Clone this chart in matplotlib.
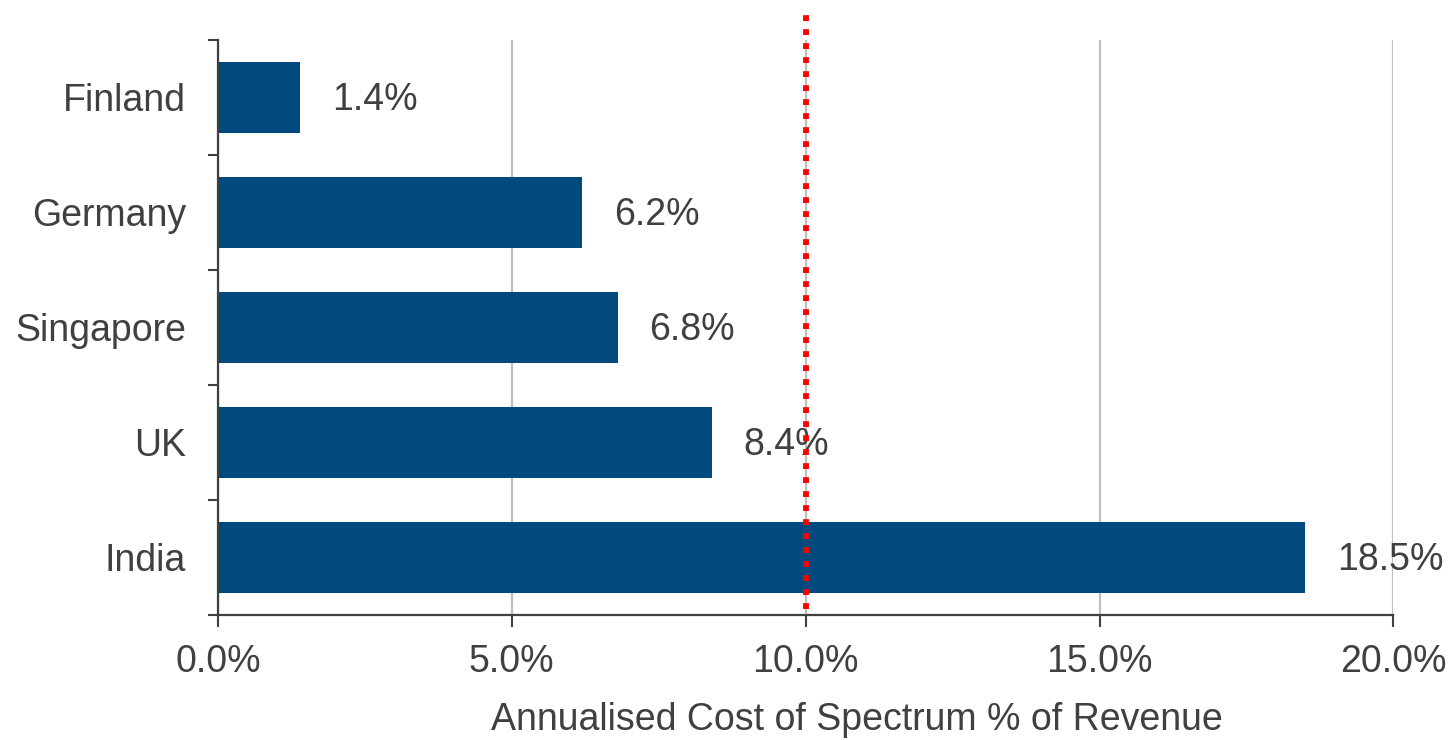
import numpy as np
import matplotlib.pyplot as plt
from matplotlib.ticker import FixedLocator, PercentFormatter

countries = ["Finland", "Germany", "Singapore", "UK", "India"]
cost_pct = [1.4, 6.2, 6.8, 8.4, 18.5]
xticks = [0, 5, 10, 15, 20]
threshold = 10.0

plt.rcParams["font.family"] = ["Liberation Sans", "DejaVu Sans"]
TXT = "#404040"
BAR = "#02497E"
FS = 27

fig = plt.figure(figsize=(14.53, 7.40), dpi=100)
ax = fig.add_axes([0.150, 0.169, 0.809, 0.777])

y = np.arange(len(countries))
ax.barh(y, cost_pct, height=0.62, color=BAR, zorder=2)
for yi, v in zip(y, cost_pct):
    ax.annotate(f"{v:.1f}%", (v, yi), xytext=(23, -2), textcoords="offset points",
                va="center", ha="left", fontsize=FS, color=TXT, zorder=3)

ax.set_ylim(len(countries) - 0.5, -0.5)
ax.set_xlim(0, 20)

# category boundaries as major ticks, labels on minor ticks
ax.yaxis.set_major_locator(FixedLocator(np.arange(-0.5, len(countries), 1.0)))
ax.yaxis.set_major_formatter(plt.NullFormatter())
ax.yaxis.set_minor_locator(FixedLocator(y))
ax.set_yticklabels(countries, minor=True)
ax.tick_params(axis="y", which="major", length=7.2, width=1.5, color=TXT)
ax.tick_params(axis="y", which="minor", length=0, pad=23, labelsize=FS, labelcolor=TXT)

ax.set_xticks(xticks)
ax.xaxis.set_major_formatter(PercentFormatter(decimals=1))
ax.tick_params(axis="x", length=8.6, width=1.5, color=TXT, pad=12,
               labelsize=FS, labelcolor=TXT)

ax.grid(axis="x", color="#BFBFBF", linewidth=1.6, zorder=0)
ax.set_axisbelow(True)
for s in ["top", "right"]:
    ax.spines[s].set_visible(False)
for s in ["left", "bottom"]:
    ax.spines[s].set_color(TXT)
    ax.spines[s].set_linewidth(1.6)

ax.axvline(threshold, ymin=0.01, ymax=1.055, color="#FF0000", linewidth=4.2,
           linestyle=(0, (1, 1.4)), dash_capstyle="butt", clip_on=False, zorder=4)

fig.text(857 / 1453, 1 - 720 / 740, "Annualised Cost of Spectrum % of Revenue",
         ha="center", va="center", fontsize=FS, color=TXT)

fig.savefig("out.png", dpi=100)
